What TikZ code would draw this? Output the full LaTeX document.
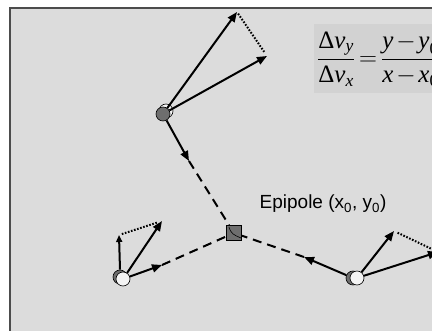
\documentclass[tikz,border=0pt]{standalone}
\usepackage{amsmath}
\usepackage{fontspec}
\setmainfont{Liberation Sans}
\newfontfamily\tms{Liberation Serif}
\usetikzlibrary{arrows.meta}
\definecolor{bg}{HTML}{DCDCDC}
\definecolor{boxbg}{HTML}{D2D2D2}
\definecolor{ptgrey}{HTML}{6E6E6E}
\definecolor{lite}{HTML}{F4F4F4}
\newcommand{\tv}[1]{\text{\tms\itshape #1}}
\newcommand{\tu}[1]{\text{\tms #1}}
\newcommand{\eqs}{\mskip3mu{=}\mskip3mu}
\newcommand{\mns}{\mskip2mu{-}\mskip2mu}
\begin{document}
\begin{tikzpicture}[x=1pt,y=-1pt,
  vec/.style={line width=2pt,-{Triangle[length=10pt,width=8pt]}},
  flow/.style={line width=2pt,dash pattern=on 9pt off 6pt},
  dotline/.style={line width=2pt,dash pattern=on 1.6pt off 1.6pt},
  ptdark/.style={circle,draw=black,line width=0.6pt,fill=ptgrey,minimum size=14pt,inner sep=0pt},
  ptlite/.style={circle,draw=black,line width=0.6pt,fill=lite,minimum size=14pt,inner sep=0pt},
  epi/.style={draw=black,fill=ptgrey,minimum size=15pt,inner sep=0pt,line width=0.8pt},
]
\useasboundingbox (0,0) rectangle (432,331);
\clip (0,0) rectangle (432,331);
\fill[white] (0,0) rectangle (432,331);
\draw[fill=bg,draw=black!70,line width=1.2pt] (10,8) rectangle (460,360);
\fill[boxbg] (314,24) rectangle (460,93);

% formula
\node[anchor=west,inner sep=0pt,font=\fontsize{25}{30}\selectfont] (formula) at (317,59)
  {$\dfrac{\tu{Δ}\tv{v}_{\tv{y}}}{\tu{Δ}\tv{v}_{\tv{x}}}\eqs\dfrac{\tv{y}\mns\tv{y}_{\tu{0}}}{\tv{x}\mns\tv{x}_{\tu{0}}}$};

% epipole
\node[epi] (e) at (234,233) {};
\draw[line width=0.6pt] (229,227) .. controls (231,234) and (234,235) .. (241,238);
\node[font=\fontsize{19}{22}\selectfont] (lbl) at (323,204) {Epipole (x\textsubscript{0}, y\textsubscript{0})};

% top particle
\node[ptlite] (tb) at (166,111) {};
\node[ptdark] (t) at (163,114) {};
\coordinate (t1) at (237,12);
\coordinate (t2) at (267,56);
\coordinate (t3) at (189,161);
\draw[vec] (t) -- (t1);
\draw[vec] (t) -- (t2);
\draw[dotline,shorten <=2pt,shorten >=5pt] (t1) -- (t2);
\draw[vec] (t) -- (t3);
\draw[flow] (t3) -- (e);

% left particle
\node[ptdark] (lb) at (120,277) {};
\node[ptlite] (l) at (123,279) {};
\coordinate (l1) at (119,235);
\coordinate (l2) at (162,221);
\coordinate (l3) at (162,265);
\draw[vec,-{Triangle[length=7pt,width=6pt]}] (lb.north) -- (l1);
\draw[vec] (l) -- (l2);
\draw[dotline,shorten <=3pt,shorten >=5pt] (l1) -- (l2);
\draw[vec] (l) -- (l3);
\draw[flow] (l3) -- (e);

% right particle
\node[ptdark] (rb) at (353,278) {};
\node[ptlite] (r) at (357,278) {};
\coordinate (r1) at (394,231);
\coordinate (r2) at (438,252);
\coordinate (r3) at (304,257);
\draw[vec] (r) -- (r1);
\draw[vec] (r) -- (r2);
\draw[dotline,shorten <=4pt] (r1) -- (r2);
\draw[vec] (rb) -- (r3);
\draw[flow] (r3) -- (e);
\end{tikzpicture}
\end{document}
